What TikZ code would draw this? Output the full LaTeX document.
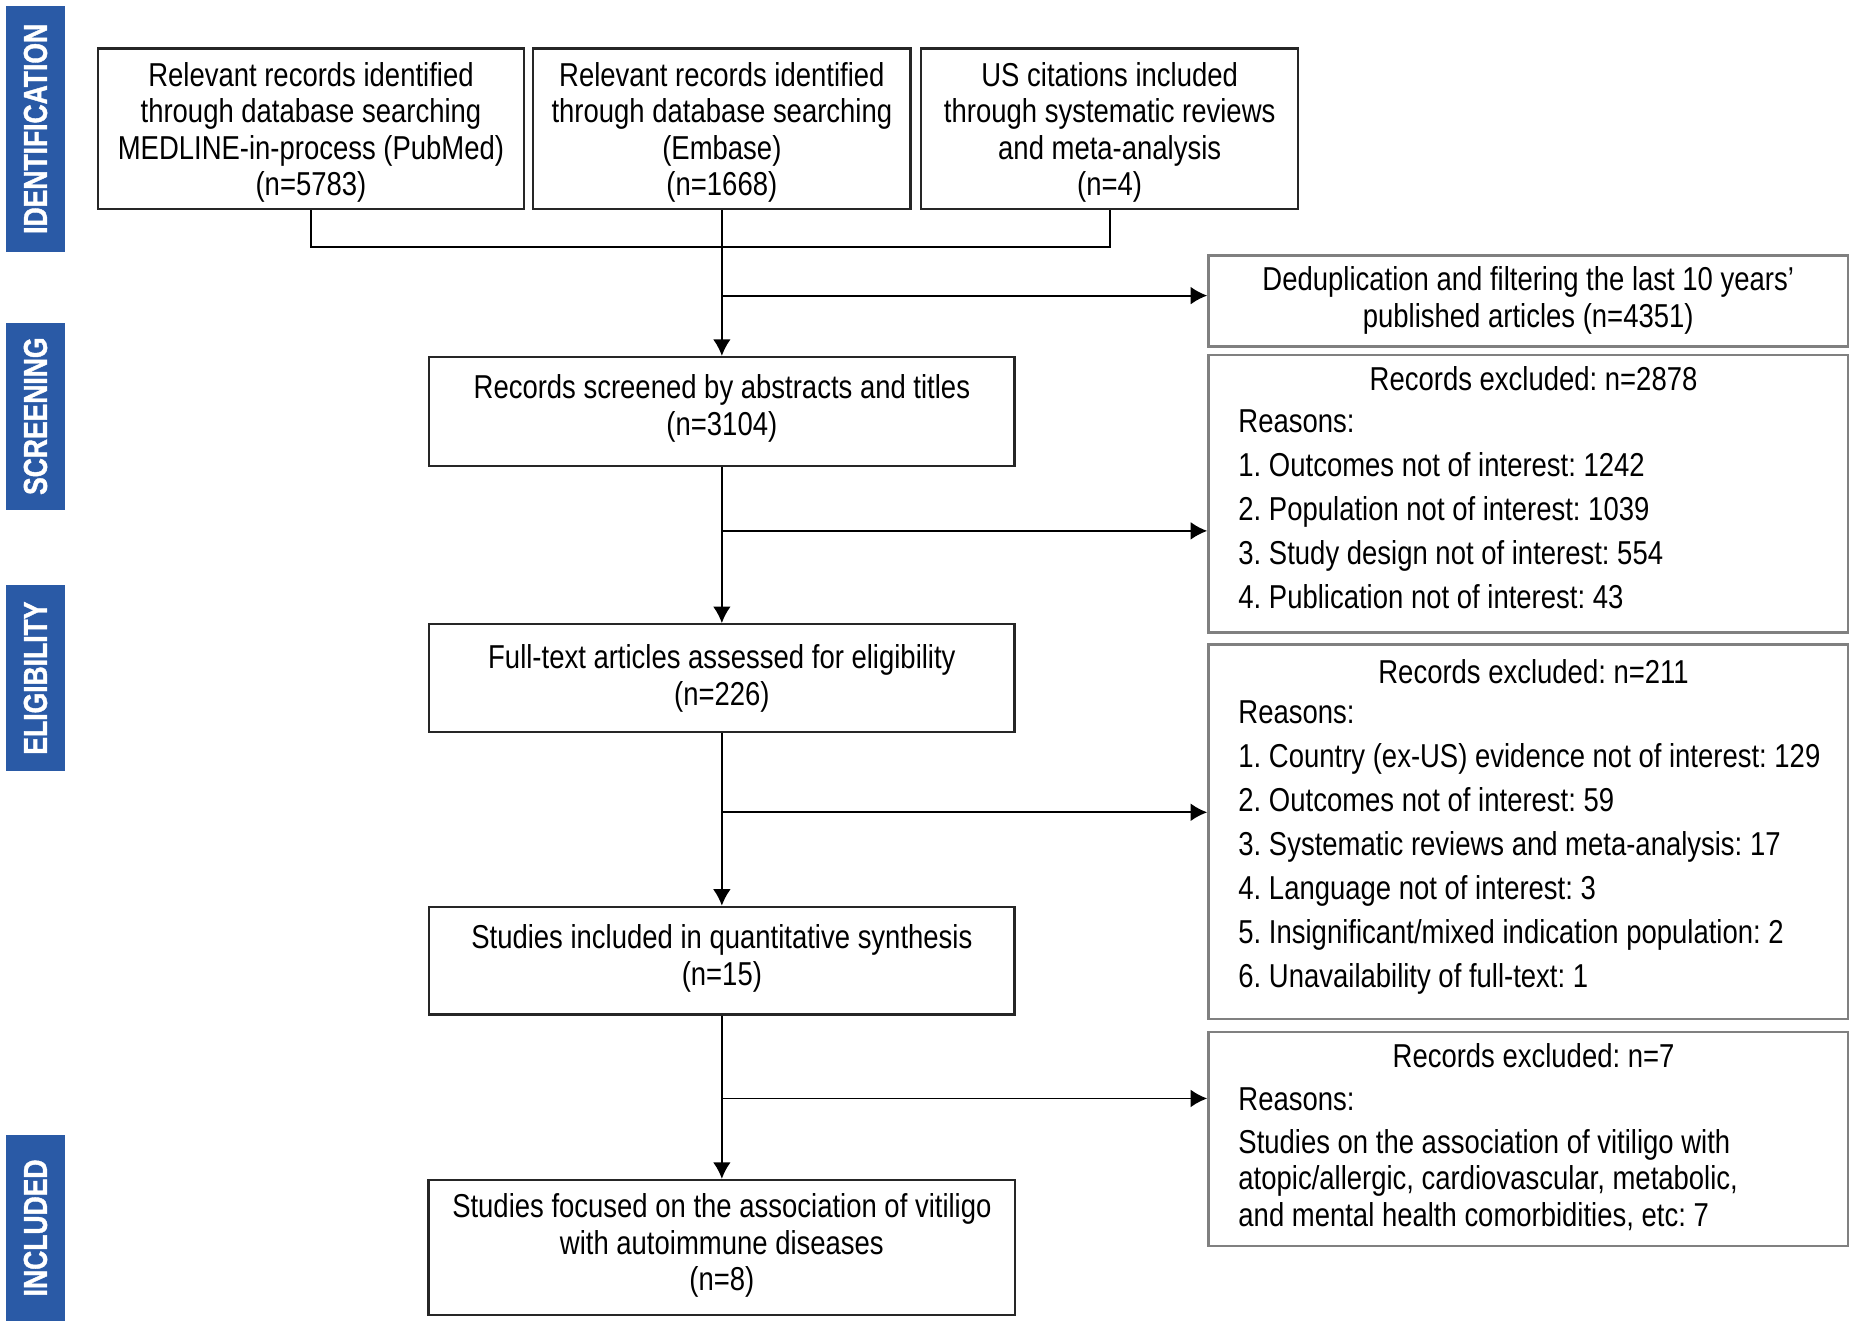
\documentclass[tikz,border=0pt]{standalone}
\usepackage{fontspec}
\setmainfont{Liberation Sans}[FakeStretch=0.83]
\newfontfamily\barfont{Liberation Sans}[FakeStretch=0.8, UprightFont={* Bold}, FakeBold=1.2]
\usetikzlibrary{arrows.meta}
\definecolor{barblue}{HTML}{2A5AA6}
\definecolor{boxgray}{HTML}{808080}
\begin{document}
\frenchspacing
\begin{tikzpicture}[x=0.5pt,y=-0.5pt,
  txt/.style={font=\fontsize{14}{15.5}\selectfont\frenchspacing, align=center, inner sep=0pt},
  lst/.style={font=\fontsize{14}{18.6}\selectfont\frenchspacing, align=left, inner sep=0pt, anchor=west},
  lbox/.style={draw=black!85, line width=1pt, inner sep=0pt},
  rbox/.style={draw=boxgray, line width=1pt, inner sep=0pt},
  bar/.style={fill=barblue, text=white, rotate=90, inner sep=0pt, minimum height=25pt,
    font=\barfont\fontsize{14}{15}\selectfont},
  arr/.style={line width=0.8pt, -{Latex[length=7pt,width=7.5pt]}},
  conn/.style={line width=0.8pt}
]
\useasboundingbox (0,0) rectangle (1568,1123);

% phase bars
\node[bar, minimum width=104pt] (pid) at (30,109) {IDENTIFICATION};
\node[bar, minimum width=79pt] (pscr) at (30,352) {SCREENING};
\node[bar, minimum width=78.5pt] (pel) at (30,573.5) {ELIGIBILITY};
\node[bar, minimum width=78.5pt] (pinc) at (30,1038.5) {INCLUDED};

% identification boxes
\node[lbox, minimum width=180pt, minimum height=68pt] (A) at (263,109) {};
\node[txt, yshift=-1.5pt] at (A) {Relevant records identified\\through database searching\\MEDLINE-in-process (PubMed)\\(n=5783)};
\node[lbox, minimum width=159.5pt, minimum height=68pt] (B) at (610.5,109) {};
\node[txt, yshift=-1.5pt] at (B) {Relevant records identified\\through database searching\\(Embase)\\(n=1668)};
\node[lbox, minimum width=159.5pt, minimum height=68pt] (C) at (938.5,109) {};
\node[txt, yshift=-1.5pt] at (C) {US citations included\\through systematic reviews\\and meta-analysis\\(n=4)};

% main column
\node[lbox, minimum width=247.5pt, minimum height=46pt] (S) at (610.5,348) {};
\node[txt] at (610.5,345.5) {Records screened by abstracts and titles\\(n=3104)};
\node[lbox, minimum width=247.5pt, minimum height=45.5pt] (F) at (610.5,573.5) {};
\node[txt] at (F) {Full-text articles assessed for eligibility\\(n=226)};
\node[lbox, minimum width=247.5pt, minimum height=45.5pt] (G) at (610.5,812.5) {};
\node[txt] at (610.5,810.5) {Studies included in quantitative synthesis\\(n=15)};
\node[lbox, minimum width=248pt, minimum height=57pt] (H) at (610.5,1055) {};
\node[txt] at (610.5,1053.5) {Studies focused on the association of vitiligo\\with autoimmune diseases\\(n=8)};

% right boxes
\node[rbox, minimum width=270.5pt, minimum height=38.5pt] (D) at (1292.5,254.5) {};
\node[txt] at (1292.5,254) {Deduplication and filtering the last 10 years'\\published articles (n=4351)};

\node[rbox, minimum width=270.5pt, minimum height=117.5pt] (E1) at (1292.5,417.5) {};
\node[txt] (E1h) at (1297,320) {Records excluded: n=2878};
\node[lst] (E1l) at (1047,431) {Reasons:\\1. Outcomes not of interest: 1242\\2. Population not of interest: 1039\\3. Study design not of interest: 554\\4. Publication not of interest: 43};

\node[rbox, minimum width=270.5pt, minimum height=158.5pt] (E2) at (1292.5,703.5) {};
\node[txt] (E2h) at (1297,568) {Records excluded: n=211};
\node[lst] (E2l) at (1047,716.5) {Reasons:\\1. Country (ex-US) evidence not of interest: 129\\2. Outcomes not of interest: 59\\3. Systematic reviews and meta-analysis: 17\\4. Language not of interest: 3\\5. Insignificant/mixed indication population: 2\\6. Unavailability of full-text: 1};

\node[rbox, minimum width=270.5pt, minimum height=90.5pt] (E3) at (1292.5,963.5) {};
\node[txt] (E3h) at (1297,893) {Records excluded: n=7};
\node[lst] (E3r) at (1047,930) {Reasons:};
\node[txt, align=left, anchor=west] (E3l) at (1047,998) {Studies on the association of vitiligo with\\atopic/allergic, cardiovascular, metabolic,\\and mental health comorbidities, etc: 7};

% connectors
\coordinate (j0) at (610.5,209);
\draw[conn] (A.south) -- (A.south |- j0) -- (C.south |- j0) -- (C.south);
\draw[arr] (B.south) -- (S.north);
\coordinate (b1) at (610.5,250);
\draw[arr] (b1) -- (b1 -| D.west);
\draw[arr] (S.south) -- (F.north);
\coordinate (b2) at (610.5,449);
\draw[arr] (b2) -- (b2 -| E1.west);
\draw[arr] (F.south) -- (G.north);
\coordinate (b3) at (610.5,687);
\draw[arr] (b3) -- (b3 -| E2.west);
\draw[arr] (G.south) -- (H.north);
\coordinate (b4) at (610.5,929);
\draw[arr] (b4) -- (b4 -| E3.west);
\end{tikzpicture}
\end{document}
